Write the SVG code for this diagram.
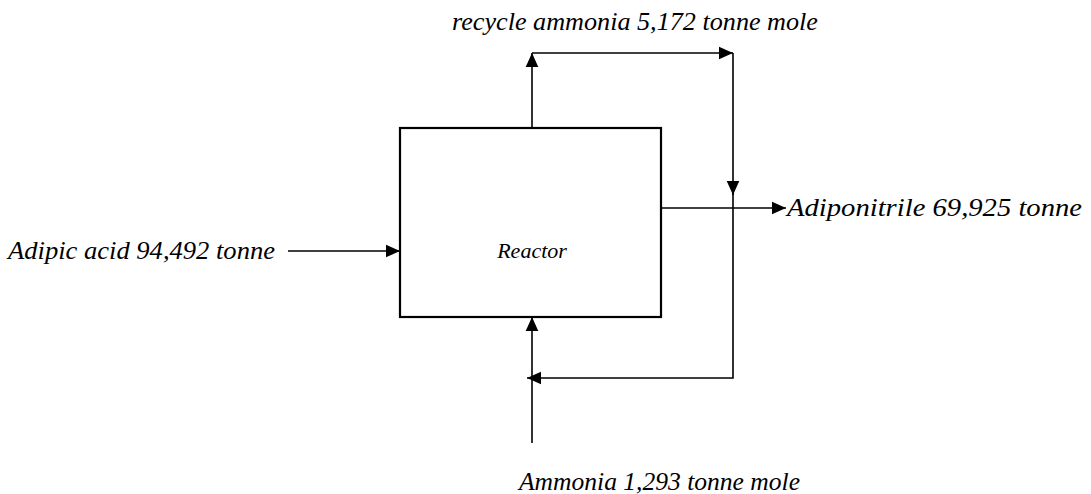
<svg xmlns="http://www.w3.org/2000/svg" width="1091" height="494" viewBox="0 0 1091 494">
<style>
.t{font-family:"Liberation Serif","Times New Roman",serif;font-style:italic;font-size:26px;fill:#000}
.l{stroke:#000;stroke-width:1.6;fill:none}
.b{stroke:#000;stroke-width:2.2;fill:#fff}
</style>
<defs>
<marker id="ah" viewBox="0 0 10 10" refX="10" refY="5" markerWidth="14" markerHeight="14" markerUnits="userSpaceOnUse" orient="auto">
<path d="M0,0.5 L10,5 L0,9.5 Z" fill="#000"/>
</marker>
</defs>
<g id="reactor">
<rect class="b" x="400" y="128" width="261" height="189"/>
<text class="t" x="532" y="258" text-anchor="middle" style="font-size:22px">Reactor</text>
</g>
<g id="connectors">
<line class="l" x1="288" y1="251" x2="400" y2="251" marker-end="url(#ah)"/>
<line class="l" x1="661" y1="208" x2="786" y2="208" marker-end="url(#ah)"/>
<polyline class="l" points="532,128 532,53" marker-end="url(#ah)"/>
<polyline class="l" points="532,53 733,53" marker-end="url(#ah)"/>
<polyline class="l" points="733,53 733,195" marker-end="url(#ah)"/>
<polyline class="l" points="733,190 733,378 527,378" marker-end="url(#ah)"/>
<line class="l" x1="532" y1="443" x2="532" y2="317" marker-end="url(#ah)"/>
</g>
<g id="labels">
<text class="t" x="452" y="30" textLength="366" lengthAdjust="spacingAndGlyphs">recycle ammonia 5,172 tonne mole</text>
<text class="t" x="8" y="259" textLength="267" lengthAdjust="spacingAndGlyphs">Adipic acid 94,492 tonne</text>
<text class="t" x="787" y="216" textLength="295" lengthAdjust="spacingAndGlyphs">Adiponitrile 69,925 tonne</text>
<text class="t" x="519" y="490" textLength="281" lengthAdjust="spacingAndGlyphs">Ammonia 1,293 tonne mole</text>
</g>
</svg>
